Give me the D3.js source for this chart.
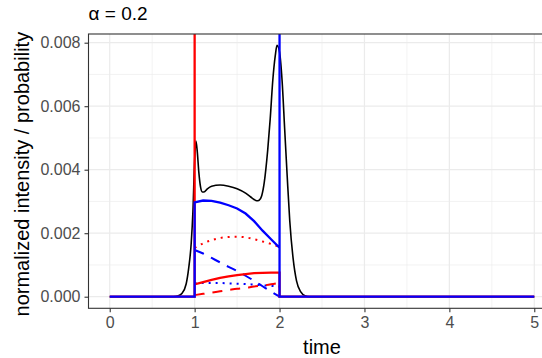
<!DOCTYPE html>
<html>
<head>
<meta charset="utf-8">
<script src="https://cdn.jsdelivr.net/npm/d3@7"></script>
<style>
  body { margin: 0; background: #fff; }
  svg { display: block; font-family: "Liberation Sans", Arial, sans-serif; }
</style>
</head>
<body>
<div id="chart"></div>
<script>
// ---- data ----
const xTicks = [0, 1, 2, 3, 4, 5];
const yTicks = [0, 0.002, 0.004, 0.006, 0.008];
const SPIKE = 0.05; // delta mass, drawn off the top of the panel

// black: smoothed total intensity
const blackT = [0, 0.75, 0.8, 0.85, 0.9, 0.93, 0.96, 0.98, 1.0, 1.015, 1.03, 1.05, 1.07, 1.09, 1.11, 1.15, 1.2, 1.3, 1.4, 1.5, 1.6, 1.66, 1.7, 1.73, 1.76, 1.79, 1.82, 1.86, 1.89, 1.92, 1.95, 1.97, 2.0, 2.03, 2.06, 2.09, 2.12, 2.16, 2.2, 2.25, 2.3, 2.35, 5];
const blackV = [0, 0, 0.00002, 0.0001, 0.0004, 0.0009, 0.0017, 0.0027, 0.0043, 0.0049, 0.0046, 0.0039, 0.00345, 0.0033, 0.0033, 0.0034, 0.00348, 0.00352, 0.00348, 0.0034, 0.00326, 0.00314, 0.00306, 0.00302, 0.00304, 0.00318, 0.0036, 0.0046, 0.0056, 0.0068, 0.0076, 0.00792, 0.0077, 0.0068, 0.0053, 0.0038, 0.0024, 0.0012, 0.0005, 0.00015, 0.00003, 0, 0];

// curves between t = 1 and t = 2
const midT = [1.0, 1.1, 1.2, 1.3, 1.4, 1.5, 1.6, 1.7, 1.8, 1.9, 2.0];
const redSolid  = [0.00039, 0.00046, 0.00053, 0.00059, 0.00064, 0.00068, 0.00071, 0.00074, 0.00075, 0.00076, 0.00076];
const blueSolid = [0.00297, 0.00303, 0.00302, 0.00296, 0.00288, 0.00278, 0.00262, 0.00238, 0.00208, 0.00181, 0.00154];
const redDotted = [0.00154, 0.00168, 0.00178, 0.00185, 0.00188, 0.00189, 0.00187, 0.00181, 0.00174, 0.00166, 0.00157];
const blueDashed = [0.00147, 0.00136, 0.00122, 0.00108, 0.00094, 0.00081, 0.00066, 0.00050, 0.00033, 0.00016, 0.0];
const blueDotted = [0.00042, 0.00043, 0.00043, 0.00043, 0.00042, 0.00041, 0.00040, 0.00038, 0.00036, 0.00034, 0.00032];
const redDashed = [0.00005, 0.00009, 0.00013, 0.00017, 0.00021, 0.00025, 0.00028, 0.00032, 0.00035, 0.00039, 0.00044];

const zip = (ts, vs) => ts.map((t, i) => [t, vs[i]]);

// full red / blue solid series with the jumps and delta spikes
const redSeries = [[0, 0], [1, 0], [1, SPIKE], ...zip(midT, redSolid), [2, 0], [5, 0]];
const blueSeries = [[0, 0], [1, 0], ...zip(midT, blueSolid), [2, SPIKE], [2, 0], [5, 0]];

// ---- layout ----
const W = 542, H = 358;
const panel = { left: 88.5, right: 555.5, top: 34, bottom: 308.3 };

const svg = d3.select("#chart").append("svg")
    .attr("width", W)
    .attr("height", H);

const x = d3.scaleLinear().domain([-0.25, 5.25]).range([panel.left, panel.right]);
const y = d3.scaleLinear().domain([-0.000365, 0.008274]).range([panel.bottom, panel.top]);

svg.append("clipPath").attr("id", "clip")
  .append("rect")
    .attr("x", panel.left).attr("y", panel.top)
    .attr("width", panel.right - panel.left)
    .attr("height", panel.bottom - panel.top);

// grid
const grid = svg.append("g");
const xMinor = [0.5, 1.5, 2.5, 3.5, 4.5];
const yMinor = [0.001, 0.003, 0.005, 0.007];
grid.selectAll(".xm").data(xMinor).join("line")
    .attr("x1", d => x(d)).attr("x2", d => x(d))
    .attr("y1", panel.top).attr("y2", panel.bottom)
    .attr("stroke", "#EBEBEB").attr("stroke-width", 0.6);
grid.selectAll(".ym").data(yMinor).join("line")
    .attr("x1", panel.left).attr("x2", panel.right)
    .attr("y1", d => y(d)).attr("y2", d => y(d))
    .attr("stroke", "#EBEBEB").attr("stroke-width", 0.6);
grid.selectAll(".xM").data(xTicks).join("line")
    .attr("x1", d => x(d)).attr("x2", d => x(d))
    .attr("y1", panel.top).attr("y2", panel.bottom)
    .attr("stroke", "#EBEBEB").attr("stroke-width", 1.2);
grid.selectAll(".yM").data(yTicks).join("line")
    .attr("x1", panel.left).attr("x2", panel.right)
    .attr("y1", d => y(d)).attr("y2", d => y(d))
    .attr("stroke", "#EBEBEB").attr("stroke-width", 1.2);

// lines
const plot = svg.append("g").attr("clip-path", "url(#clip)");
const line = d3.line().x(d => x(d[0])).y(d => y(d[1]));
const curve = d3.line().x(d => x(d[0])).y(d => y(d[1])).curve(d3.curveMonotoneX);

plot.append("path")
    .datum(zip(blackT, blackV))
    .attr("d", curve)
    .attr("fill", "none").attr("stroke", "#000").attr("stroke-width", 1.6);

const dashed = [
  { v: redDotted, color: "red", dash: "2,5" },
  { v: blueDashed, color: "blue", dash: "10,8" },
  { v: blueDotted, color: "blue", dash: "2,5" },
  { v: redDashed, color: "red", dash: "10,8" }
];
dashed.forEach(s => {
  plot.append("path")
      .datum(zip(midT, s.v))
      .attr("d", curve)
      .attr("fill", "none").attr("stroke", s.color)
      .attr("stroke-width", 2)
      .attr("stroke-dasharray", s.dash);
});

plot.append("path")
    .datum(redSeries)
    .attr("d", line)
    .attr("fill", "none").attr("stroke", "red").attr("stroke-width", 2.3);

plot.append("path")
    .datum(blueSeries)
    .attr("d", line)
    .attr("fill", "none").attr("stroke", "blue").attr("stroke-width", 2.3);

// panel border
svg.append("rect")
    .attr("x", panel.left).attr("y", panel.top)
    .attr("width", panel.right - panel.left)
    .attr("height", panel.bottom - panel.top)
    .attr("fill", "none").attr("stroke", "#333333").attr("stroke-width", 1.1);

// axes
const xAxis = svg.append("g")
    .attr("transform", `translate(0,${panel.bottom})`)
    .call(d3.axisBottom(x).tickValues(xTicks).tickSize(4).tickPadding(4).tickFormat(d3.format("d")));
const yAxis = svg.append("g")
    .attr("transform", `translate(${panel.left},0)`)
    .call(d3.axisLeft(y).tickValues(yTicks).tickSize(4).tickPadding(4).tickFormat(d3.format(".3f")));

[xAxis, yAxis].forEach(a => {
  a.select(".domain").remove();
  a.selectAll(".tick line").attr("stroke", "#333333").attr("stroke-width", 1.1);
  a.selectAll(".tick text")
      .attr("fill", "#4D4D4D")
      .style("font-size", "16px")
      .style("font-family", "'Liberation Sans', Arial, sans-serif");
});

// titles
svg.append("text")
    .attr("x", 322)
    .attr("y", 354)
    .attr("text-anchor", "middle")
    .style("font-size", "20px")
    .text("time");

svg.append("text")
    .attr("transform", `translate(29,${(panel.top + panel.bottom) / 2 + 3}) rotate(-90)`)
    .attr("text-anchor", "middle")
    .style("font-size", "20px")
    .text("normalized intensity / probability");

svg.append("text")
    .attr("x", panel.left)
    .attr("y", 20)
    .style("font-size", "19px")
    .text("α = 0.2");
</script>
</body>
</html>
